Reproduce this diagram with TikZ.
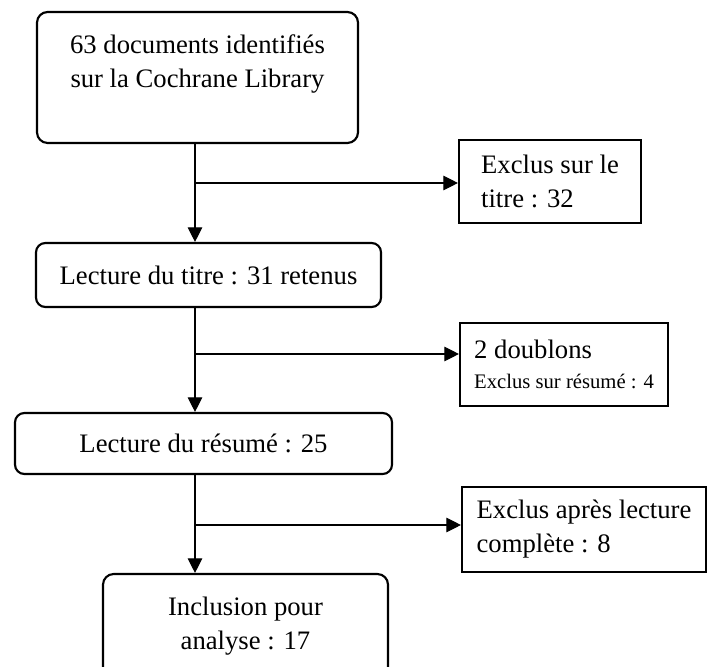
\documentclass[tikz,border=0pt]{standalone}
\usepackage{fontspec}
\setmainfont{Liberation Serif}
\usetikzlibrary{arrows.meta,positioning,calc}
\tikzset{
block/.style={
  rectangle,
  draw,
  line width=1.6pt,
  rounded corners=8pt,
  align=center,
  inner sep=0pt,
  font=\fontsize{20}{25.5}\selectfont},
exclbox/.style={
  rectangle,
  draw,
  line width=1.6pt,
  align=left,
  inner sep=0pt,
  font=\fontsize{20}{25.5}\selectfont},
line/.style={draw, line width=0.8pt, -{Triangle[length=11pt,width=11pt]}},
edge/.style={draw, line width=0.8pt}
}
\begin{document}
\begin{tikzpicture}[x=0.75pt,y=-0.75pt]
    \useasboundingbox (0,0) rectangle (712,666);
    \node [block, minimum width=240.75pt, minimum height=98.25pt] (ident) at (197.5,77.5)
      {\parbox[c][98pt][t]{230pt}{\centering\vspace*{17pt}63 documents identifiés\\sur la Cochrane Library}};
    \node [block, rounded corners=7pt, minimum width=258.75pt, minimum height=48pt] (titre) at (208.5,275) {Lecture du titre : 31 retenus};
    \node [block, rounded corners=7pt, minimum width=282.75pt, minimum height=45.75pt] (resume) at (203.5,443.5) {Lecture du résumé : 25};
    \node [block, minimum width=213.75pt, minimum height=78pt] (incl) at (245.5,626) {Inclusion pour\\analyse : 17};
    \node [exclbox, minimum width=136.5pt, minimum height=62.25pt] (excl1) at (550,181.5) {Exclus sur le\\titre : 32};
    \node [exclbox, minimum width=156pt, minimum height=62.25pt] (excl2) at (564,364.5)
      {2 doublons\\[-3pt]{\fontsize{15.5}{18}\selectfont Exclus sur résumé : 4}};
    \node [exclbox, minimum width=183pt, minimum height=63.75pt] (excl3) at (584,529.5) {Exclus après lecture\\complète : 8};
    % branch points
    \coordinate (b1) at (195,183);
    \coordinate (b2) at (195,354);
    \coordinate (b3) at (195,525);
    \path [line] (ident.south -| b1) -- (titre.north -| b1);
    \path [line] (b1) -- (b1 -| excl1.west);
    \path [line] (titre.south -| b2) -- (resume.north -| b2);
    \path [line] (b2) -- (b2 -| excl2.west);
    \path [line] (resume.south -| b3) -- (incl.north -| b3);
    \path [line] (b3) -- (b3 -| excl3.west);
\end{tikzpicture}
\end{document}
